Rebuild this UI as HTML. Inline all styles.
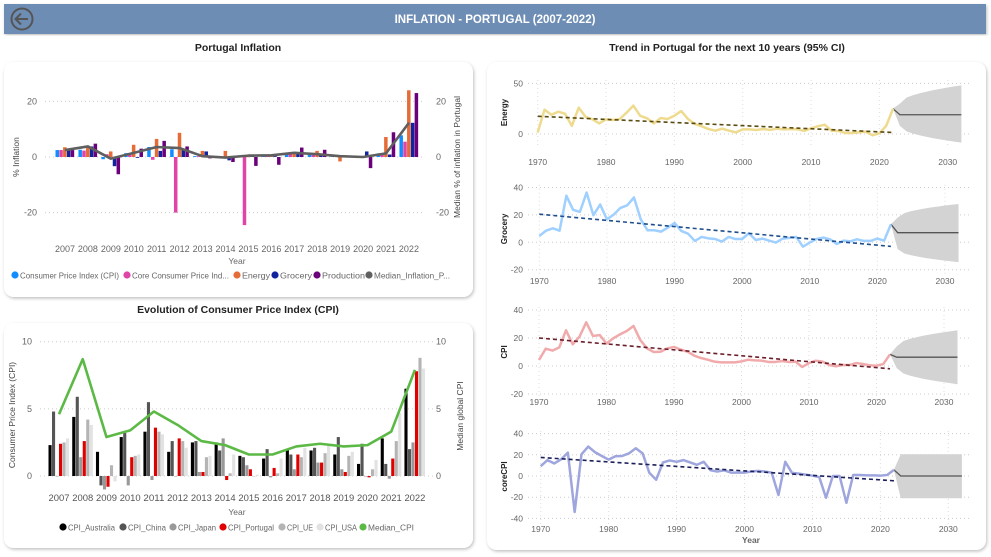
<!DOCTYPE html>
<html><head><meta charset="utf-8">
<style>
html,body{margin:0;padding:0;background:#fff;width:991px;height:557px;overflow:hidden;font-family:"Liberation Sans",sans-serif;}
svg text{font-family:"Liberation Sans",sans-serif;}
</style></head>
<body>
<svg id="root" width="991" height="557" viewBox="0 0 991 557" xmlns="http://www.w3.org/2000/svg">
<defs>
<filter id="sh" x="-5%" y="-5%" width="110%" height="110%"><feDropShadow dx="1" dy="1.5" stdDeviation="1.5" flood-color="#000" flood-opacity="0.25"/></filter>
</defs>
<rect x="4" y="4" width="982" height="30" fill="#6e8db5" filter="url(#sh)"/>
<text x="495" y="23" text-anchor="middle" fill="#fff" font-size="11.5" font-weight="bold">INFLATION - PORTUGAL (2007-2022)</text>
<g>
<circle cx="22" cy="19" r="10.5" fill="none" stroke="#555" stroke-width="2"/>
<path d="M28 19 H16 M21 13.5 L15.5 19 L21 24.5" fill="none" stroke="#555" stroke-width="2"/>
</g>
<text x="238" y="51" text-anchor="middle" font-size="10.5" font-weight="bold" fill="#222">Portugal Inflation</text>
<text x="727" y="51" text-anchor="middle" font-size="10.5" font-weight="bold" fill="#222">Trend in Portugal for the next 10 years (95% CI)</text>
<text x="238" y="313" text-anchor="middle" font-size="10.5" font-weight="bold" fill="#222">Evolution of Consumer Price Index (CPI)</text>
<rect x="4" y="62" width="469" height="235" rx="10" fill="#fff" filter="url(#sh)"/>
<rect x="4" y="323" width="469" height="225" rx="10" fill="#fff" filter="url(#sh)"/>
<rect x="487" y="62" width="499" height="488" rx="10" fill="#fff" filter="url(#sh)"/>
<g id="c1"></g><g id="c2"></g><g id="c3"></g>
</svg>
<script>
// ---------- Chart 1 data ----------
const years1 = [2007,2008,2009,2010,2011,2012,2013,2014,2015,2016,2017,2018,2019,2020,2021,2022];
const cpiPT = [2.5,2.6,-0.8,1.4,3.6,2.8,0.3,-0.2,0.5,0.6,1.4,1.0,0.3,0.0,1.3,7.8];
const corePT = [2.5,2.3,1.0,1.1,-1.0,-20,0.3,0.2,-24.5,0.5,1.2,0.8,0.4,0.1,0.9,5.5];
const energyPT = [3.5,3.8,2.0,4.4,6.5,8.7,2.2,2.2,0.1,0.3,1.3,2.2,-1.6,-0.2,7.2,24];
const groceryPT = [2.5,3.8,-3.3,-0.3,2.2,3.0,2.0,-1.2,0.9,0.3,1.4,0.9,0.3,2.0,0.9,12.3];
const productionPT = [2.5,4.8,-6.2,3.0,5.8,3.8,-0.5,-1.8,-3.2,-2.8,3.4,2.6,0.3,-4.0,8.9,23];
const medianPT = [2.5,3.8,-0.6,1.5,3.6,3.2,0.3,-0.2,0.5,0.6,1.5,1.0,0.3,0.0,1.3,12.3];
const ticks1 = [20,0,-20];
// ---------- Chart 2 data ----------
const years2 = years1;
const cpiAus = [2.3,4.4,1.8,2.9,3.3,1.8,2.5,2.5,1.5,1.3,2.0,1.9,1.6,0.9,2.8,6.5];
const cpiChina = [4.8,5.9,-0.7,3.2,5.5,2.6,2.6,1.9,1.4,2.0,1.6,2.1,2.9,2.4,0.9,2.0];
const cpiJapan = [0.0,1.4,-1.0,-0.7,-0.3,0.0,0.3,2.8,0.8,-0.1,0.5,1.0,0.5,0.0,-0.2,2.5];
const cpiPort = [2.4,2.6,-0.8,1.4,3.6,2.8,0.3,-0.3,0.5,0.6,1.6,1.0,0.3,-0.1,1.3,7.8];
const cpiUE = [2.5,4.2,0.8,1.5,3.3,2.6,1.4,0.2,0.0,0.2,1.4,1.7,1.5,0.5,2.6,8.8];
const cpiUSA = [2.8,3.8,-0.4,1.6,3.1,2.1,1.5,1.6,0.1,1.3,2.1,2.4,1.8,1.2,4.7,8.0];
const medianCPI = [4.6,8.7,2.9,3.4,4.8,3.8,2.6,2.3,1.6,1.6,2.2,2.4,2.2,2.3,3.3,7.9];
const ticks2 = [10,5,0];
// ---------- Trend data (1970-2022) ----------
const trendStart = 1970;
const energyHist = [1.6,24,19,22,20,8,26,17,14.5,10.5,14.5,13.8,14.8,21,28,18,15.5,10.5,15.8,14.8,18,22.7,14.8,9.9,7.6,4.9,3.3,5.3,3.3,1.6,4.6,4.6,4,4.9,4,5.3,4.6,4.9,4.6,3,5.6,7.6,9.2,3.3,3,1,1,1.6,2.3,-1.3,0.7,8,25];
const groceryHist = [4.6,8.5,10.2,8.5,34,23.7,22.2,36.3,19.8,27.6,16.8,20.2,25.1,27,32.7,16.8,8.8,8.8,7.8,10.7,14.1,8.3,6.3,1,3.9,2.9,2.4,0.5,3.9,2.4,2.4,6.6,1.7,2.7,1.2,-0.2,2.7,3.2,3.9,-3.2,-0.2,2.4,3.4,2.2,-1.2,1.2,0.7,2.2,1,1,2.7,1.2,13.2];
const cpiHist = [4.3,12.4,11,13.3,25.5,15.5,21,31.2,21.4,22.1,16,19.8,22.6,25,28.6,18.6,12.6,10,10.2,12.6,13.6,11.7,10.2,7.4,5.7,4.5,3.1,2.6,2.6,2.6,3.3,4.5,4,3.8,2.9,2.9,3.6,2.9,3.1,-0.7,2.1,3.8,3.1,0.7,-0.2,0.7,0.7,2.1,1.4,0.5,0.2,1.4,8.3];
const coreHist = [9.3,15,11.8,15.7,22,-34,20.5,27.8,22.4,18.9,15.4,18.6,18.9,21.4,26.2,21.4,2.9,-3.5,12.8,14.7,13.4,15,12.8,10.6,13.4,5.4,4.2,5.4,3.2,3.2,3.2,4.2,4.8,4.2,3.2,-17.9,13.4,2.9,2.2,1.3,0.3,-1,-20.5,0,0,-25.3,1,1,0.6,0.6,0.3,1,5.8];
const forecastVals = [19,7,6.3,0];
const bandUpper0 = [30,18,14,20.5];
const bandUpper1 = [48,28,25.5,20.5];
const bandLower0 = [8,-5,-1.5,-21];
const bandLower1 = [-8.5,-14.5,-13,-21];
const trendFrom = [17.5,20.5,20,17.5];
const trendTo = [1.5,-3,-2,-4.5];
const xTicks3 = [1970,1980,1990,2000,2010,2020,2030];

const NS='http://www.w3.org/2000/svg';
function mk(parent,tag,attrs,txt){const e=document.createElementNS(NS,tag);for(const k in attrs)e.setAttribute(k,attrs[k]);if(txt!==undefined)e.textContent=txt;parent.appendChild(e);return e;}
const grey='#666';

// ================= CHART 1 =================
(function(){
  const g=document.getElementById('c1');
  const y=v=>157-v*2.78;
  const x=i=>65+i*22.93;
  ticks1.forEach(t=>{
    const ln=mk(g,'line',{x1:45,x2:425,y1:y(t),y2:y(t),stroke:'#ccc','stroke-dasharray':'1,3'});
    
    
    const a=mk(g,'text',{x:37,y:y(t)+3,'text-anchor':'end','font-size':9,fill:grey},t);
    
    
    const b=mk(g,'text',{x:436,y:y(t)+3,'font-size':9,fill:grey},t);
    
    
  });
  const series=[cpiPT,corePT,energyPT,groceryPT,productionPT];
  const cols=['#118dff','#e044a7','#e66c37','#12239e','#6b007b'];
  const names=['bar-cpi','bar-core-cpi','bar-energy','bar-grocery','bar-production'];
  const bw=3.8;
  years1.forEach((yr,i)=>{
    series.forEach((s,k)=>{
      const v=s[i];const bx=x(i)-9.5+k*bw;
      const r=mk(g,'rect',{x:bx,y:Math.min(y(v),y(0)),width:bw-0.3,height:Math.max(0.5,Math.abs(y(v)-y(0))),fill:cols[k]});
      
      
    });
    const lb=mk(g,'text',{x:x(i),y:252,'text-anchor':'middle','font-size':9,fill:grey},yr);
    
    
  });
  const p=mk(g,'polyline',{points:medianPT.map((v,i)=>x(i)+','+y(v)).join(' '),fill:'none',stroke:'#5f5f5f','stroke-width':2.6,'stroke-linejoin':'round'});
  
  
  const xt=mk(g,'text',{x:237,y:264,'text-anchor':'middle','font-size':8.5,fill:grey},'Year');
  
  
  const yl=mk(g,'text',{transform:'translate(19,157) rotate(-90)','text-anchor':'middle','font-size':8.5,fill:'#444'},'% Inflation');
  
  
  const yr2=mk(g,'text',{transform:'translate(460,157) rotate(-90)','text-anchor':'middle','font-size':8.5,fill:'#444'},'Median % of inflation in Portugal');
  
  
  const lg=[['Consumer Price Index (CPI)','#118dff',15,99],['Core Consumer Price Ind...','#e044a7',127,97],['Energy','#e66c37',237,28],['Grocery','#12239e',275,32],['Production','#6b007b',317,43],['Median_Inflation_P...','#5f5f5f',369,76]];
  lg.forEach(l=>{
    const gg=mk(g,'g',{});
    
    
    mk(gg,'circle',{cx:l[2],cy:275,r:3.6,fill:l[1]});
    mk(gg,'text',{x:l[2]+5,y:278.5,'font-size':8.6,fill:grey,textLength:l[3],lengthAdjust:'spacingAndGlyphs'},l[0]);
  });
})();

// ================= CHART 2 =================
(function(){
  const g=document.getElementById('c2');
  const y=v=>476-v*13.43;
  const x=i=>59+i*23.73;
  ticks2.forEach(t=>{
    const ln=mk(g,'line',{x1:40,x2:433,y1:y(t),y2:y(t),stroke:'#ccc','stroke-dasharray':'1,3'});
    
    
    const a=mk(g,'text',{x:32,y:y(t)+3,'text-anchor':'end','font-size':9,fill:grey},t);
    
    
    const b=mk(g,'text',{x:436,y:y(t)+3,'font-size':9,fill:grey},t);
    
    
  });
  const series=[cpiAus,cpiChina,cpiJapan,cpiPort,cpiUE,cpiUSA];
  const cols=['#000','#555','#999','#e00000','#b4b4b4','#e2e2e2'];
  const names=['bar-australia','bar-china','bar-japan','bar-portugal','bar-ue','bar-usa'];
  const bw=3.5;
  years2.forEach((yr,i)=>{
    series.forEach((s,k)=>{
      const v=s[i];const bx=x(i)-10.5+k*bw;
      const r=mk(g,'rect',{x:bx,y:Math.min(y(v),y(0)),width:bw-0.4,height:Math.max(0.5,Math.abs(y(v)-y(0))),fill:cols[k]});
      
      
    });
    const lb=mk(g,'text',{x:x(i),y:501,'text-anchor':'middle','font-size':9.5,fill:'#555',textLength:21,lengthAdjust:'spacingAndGlyphs'},yr);
    
    
  });
  const p=mk(g,'polyline',{points:medianCPI.map((v,i)=>x(i)+','+y(v)).join(' '),fill:'none',stroke:'#5cb946','stroke-width':2.6,'stroke-linejoin':'round'});
  
  
  const xt=mk(g,'text',{x:237,y:515,'text-anchor':'middle','font-size':8.5,fill:grey},'Year');
  
  
  const yl=mk(g,'text',{transform:'translate(15,415) rotate(-90)','text-anchor':'middle','font-size':8.5,fill:'#444'},'Consumer Price Index (CPI)');
  
  
  const yr2=mk(g,'text',{transform:'translate(463,416) rotate(-90)','text-anchor':'middle','font-size':8.5,fill:'#444'},'Median global CPI');
  
  
  const lg=[['CPI_Australia','#000',63,47],['CPI_China','#555',123,38],['CPI_Japan','#999',173,38],['CPI_Portugal','#e00000',223,46],['CPI_UE','#b4b4b4',282,26],['CPI_USA','#e2e2e2',320,32],['Median_CPI','#5cb946',363,46]];
  lg.forEach(l=>{
    const gg=mk(g,'g',{});
    
    
    mk(gg,'circle',{cx:l[2],cy:527,r:3.6,fill:l[1]});
    mk(gg,'text',{x:l[2]+5,y:530.5,'font-size':8.6,fill:grey,textLength:l[3],lengthAdjust:'spacingAndGlyphs'},l[0]);
  });
})();

// ================= TREND CHARTS =================
(function(){
  const g=document.getElementById('c3');
  const cfg=[
    {name:'energy',label:'Energy',data:energyHist,zero:134,ppu:1.013,ticks:[50,0],top:83,bot:142,xl:162,col:'#eedb8f',tc:'#5a4a10',x0:537.7,x1:947.7},
    {name:'grocery',label:'Grocery',data:groceryHist,zero:242.3,ppu:1.37,ticks:[40,20,0,-20],top:187.7,bot:270,xl:281,col:'#9fd0ff',tc:'#1f4e8c',x0:539.3,x1:945},
    {name:'cpi',label:'CPI',data:cpiHist,zero:366,ppu:1.4,ticks:[40,20,0,-20],top:310,bot:394,xl:402,col:'#f1aaac',tc:'#6b1e2a',x0:539,x1:944},
    {name:'core-cpi',label:'coreCPI',data:coreHist,zero:476,ppu:1.06,ticks:[40,20,0,-20,-40],top:434,bot:519,xl:529,col:'#9ea6dd',tc:'#1b1f5a',x0:540.7,x1:948.3}
  ];
  cfg.forEach((c,ci)=>{
    const sg=mk(g,'g',{});
    
    
    const y=v=>c.zero-v*c.ppu;
    const x=yr=>c.x0+(yr-1970)*(c.x1-c.x0)/60;
    c.ticks.forEach(t=>{
      const ln=mk(sg,'line',{x1:528,x2:970,y1:y(t),y2:y(t),stroke:'#ccc','stroke-dasharray':'1,3'});
      
      
      const a=mk(sg,'text',{x:523,y:y(t)+3,'text-anchor':'end','font-size':8.5,fill:grey},t);
      
      
    });
    const gt=Math.min(c.top, y(Math.max(...c.data)))-3, gb=c.bot+6;
    xTicks3.forEach(t=>{
      const ln=mk(sg,'line',{x1:x(t),x2:x(t),y1:gt,y2:gb,stroke:'#ddd','stroke-dasharray':'1,3'});
      
      
      const a=mk(sg,'text',{x:x(t),y:c.xl+3,'text-anchor':'middle','font-size':8.5,fill:grey},t);
      
      
    });
    const lastYr=trendStart+c.data.length-1;
    const lastV=c.data[c.data.length-1];
    const up=[],lo=[];
    for(let k=1;k<=10;k++){const f=Math.sqrt((k-1)/9);up.push([lastYr+k,bandUpper0[ci]+(bandUpper1[ci]-bandUpper0[ci])*f]);lo.push([lastYr+k,bandLower0[ci]+(bandLower1[ci]-bandLower0[ci])*f]);}
    const pts=[[lastYr,lastV]].concat(up).concat(lo.slice().reverse()).map(p=>x(p[0])+','+y(p[1])).join(' ');
    const band=mk(sg,'polygon',{points:pts,fill:'#d3d3d3'});
    
    
    const fpts=[[lastYr,lastV]];for(let k=1;k<=10;k++)fpts.push([lastYr+k,forecastVals[ci]]);
    const fl=mk(sg,'polyline',{points:fpts.map(p=>x(p[0])+','+y(p[1])).join(' '),fill:'none',stroke:'#555','stroke-width':1.3});
    
    
    const ln=mk(sg,'polyline',{points:c.data.map((v,i)=>x(trendStart+i)+','+y(v)).join(' '),fill:'none',stroke:c.col,'stroke-width':2.5,'stroke-linejoin':'round'});
    
    
    const tl=mk(sg,'line',{x1:x(1970),y1:y(trendFrom[ci]),x2:x(lastYr),y2:y(trendTo[ci]),stroke:c.tc,'stroke-width':1.6,'stroke-dasharray':'4,3'});
    
    
    const at=mk(sg,'text',{transform:'translate(507,'+((c.top+c.bot)/2)+') rotate(-90)','text-anchor':'middle','font-size':8,'font-weight':'bold',fill:'#222'},c.label);
    
    
  });
  const yt=mk(g,'text',{x:751,y:543,'text-anchor':'middle','font-size':8.5,'font-weight':'bold',fill:grey},'Year');
  
  
})();
</script>
</body></html>
